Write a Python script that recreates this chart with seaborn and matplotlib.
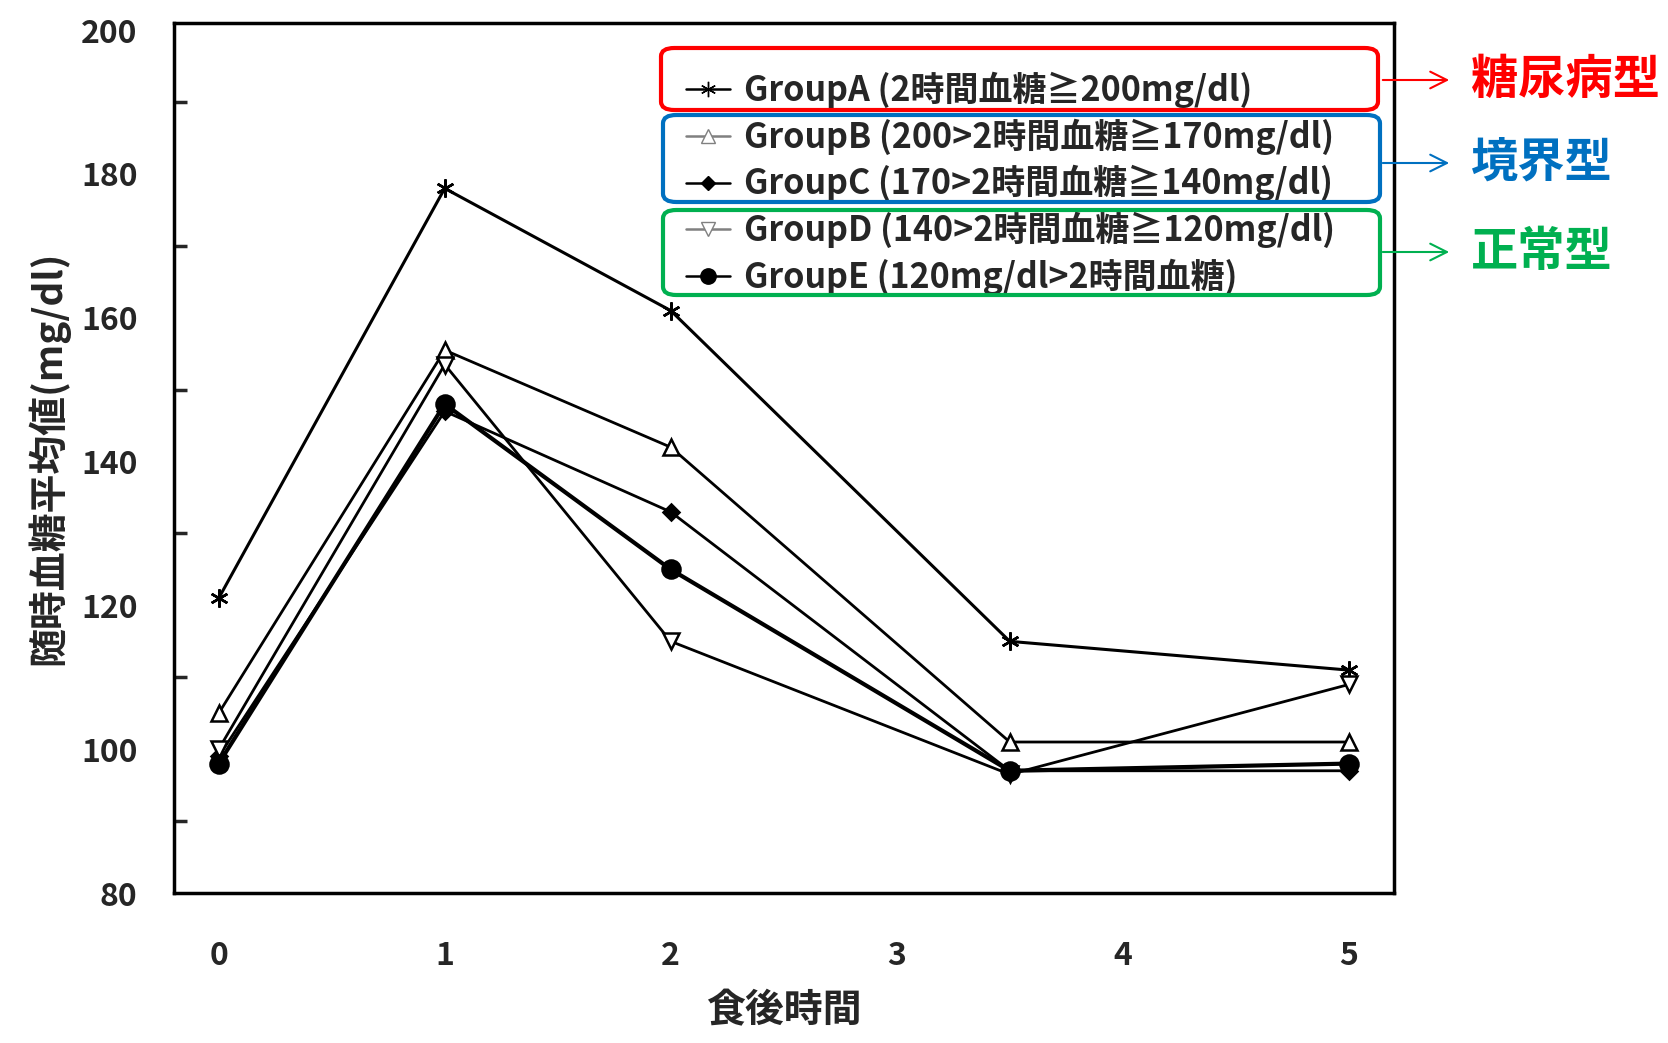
import pandas as pd
import matplotlib.pyplot as plt
import seaborn as sns
from matplotlib.patches import FancyBboxPatch
from matplotlib.lines import Line2D

# data
hours = [0, 1, 2, 3.5, 5]
group_a = [121, 178, 161, 115, 111]
group_b = [105, 155.5, 142, 101, 101]
group_c = [99, 147, 133, 97, 97]
group_d = [100, 153.5, 115, 96.5, 109]
group_e = [98, 148, 125, 97, 98]

labels = ['GroupA (2時間血糖≧200mg/dl)',
          'GroupB (200>2時間血糖≧170mg/dl)',
          'GroupC (170>2時間血糖≧140mg/dl)',
          'GroupD (140>2時間血糖≧120mg/dl)',
          'GroupE (120mg/dl>2時間血糖)']
types = ['糖尿病型', '境界型', '正常型']
type_colors = ['#FF0000', '#0070C0', '#00B050']

sns.set_style('white')
plt.rcParams['font.family'] = ['Noto Sans CJK JP', 'DejaVu Sans']
plt.rcParams['font.weight'] = 'bold'

W, H = 1668, 1043
fig = plt.figure(figsize=(W / 100, H / 100), dpi=100)
ax = fig.add_axes([173.5 / W, 1 - 893 / H, (1394 - 173.5) / W, (893 - 23) / H])

# marker, face colour, size, line width
styles = [((6, 2, 0), 'black', 13, 2.2),
          ('^', 'white', 12, 2.0),
          ('D', 'black', 8, 2.0),
          ('v', 'white', 12, 2.0),
          ('o', 'black', 13, 3.0)]
series = [group_a, group_b, group_c, group_d, group_e]

for vals, (mk, fc, ms, lw) in zip(series, styles):
    df = pd.DataFrame({'hour': hours, 'glucose': vals})
    sns.lineplot(data=df, x='hour', y='glucose', ax=ax, color='black',
                 marker=mk, markersize=ms, markerfacecolor=fc,
                 markeredgecolor='black', markeredgewidth=1.8, linewidth=lw,
                 legend=False)

ax.set_xlim(-0.2, 5.2)
ax.set_ylim(80, 201)
ax.set_xticks([0, 1, 2, 3, 4, 5])
ax.set_yticks([80, 100, 120, 140, 160, 180, 200])
ax.set_yticks(range(90, 200, 20), minor=True)
ax.tick_params(axis='both', direction='in', length=18, width=2.5, labelsize=23)
ax.tick_params(axis='x', pad=34)
ax.tick_params(axis='y', pad=26)
ax.tick_params(axis='y', which='minor', direction='in', length=9, width=2.5, left=True)
for s in ax.spines.values():
    s.set_color('black')
    s.set_linewidth(2.5)
ax.set_xlabel('食後時間', fontsize=28, fontweight='bold', labelpad=14)
ax.set_ylabel('随時血糖平均値(mg/dl)', fontsize=28, fontweight='bold', labelpad=8)

# legend
handle_colors = ['black', 'gray', 'black', 'gray', 'black']
handles = []
for (mk, fc, ms, lw), hc in zip(styles, handle_colors):
    handles.append(Line2D([0], [0], color=hc, marker=mk, markersize=ms * 0.85,
                          markerfacecolor=fc if fc == 'white' else hc,
                          markeredgecolor=hc, linewidth=1.8))
leg = ax.legend(handles, labels, loc='upper left',
                bbox_to_anchor=(686 / W, 1 - 72 / H), bbox_transform=fig.transFigure,
                frameon=False, fontsize=24.5, handlelength=1.3, handletextpad=0.4,
                labelspacing=0.3, borderpad=0, borderaxespad=0)

# coloured group boxes, arrows and type names
boxes = [(661, 48, 717, 62), (663, 115, 717, 87), (663, 210, 717, 85)]
arrow_y = [80, 163, 252]
for (x0, y0, bw, bh), ay, name, c in zip(boxes, arrow_y, types, type_colors):
    fig.patches.append(FancyBboxPatch((x0 / W, 1 - (y0 + bh) / H), bw / W, bh / H,
                                      boxstyle='round,pad=0,rounding_size=0.008',
                                      transform=fig.transFigure, fill=False,
                                      edgecolor=c, linewidth=3, figure=fig))
    ax.annotate('', xy=(1452 / W, 1 - ay / H), xytext=(1380 / W, 1 - ay / H),
                xycoords='figure fraction', textcoords='figure fraction',
                arrowprops=dict(arrowstyle='->', color=c, lw=1.5, mutation_scale=30))
    fig.text(1471 / W, 1 - ay / H, name, color=c, fontsize=34, fontweight='bold',
             va='center', ha='left')

fig.savefig('out.png', dpi=100)
